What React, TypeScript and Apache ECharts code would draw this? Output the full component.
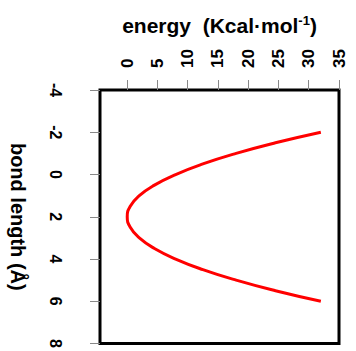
import React, { useEffect, useRef } from "react";
import * as echarts from "echarts";

const bondLength = [-2, -1.5, -1, -0.5, 0, 0.5, 1, 1.5, 2, 2.5, 3, 3.5, 4, 4.5, 5, 5.5, 6];
const energy = [32, 24.5, 18, 12.5, 8, 4.5, 2, 0.5, 0, 0.5, 2, 4.5, 8, 12.5, 18, 24.5, 32];
const energyTicks = [0, 5, 10, 15, 20, 25, 30, 35];

const FONT = "'Liberation Sans', Arial, sans-serif";

export default function App() {
  const ref = useRef<HTMLDivElement>(null);
  useEffect(() => {
    if (!ref.current) return;
    const chart = echarts.init(ref.current, null, { renderer: "svg" });
    const data = bondLength.map((b, i) => [energy[i], b]);
    chart.setOption({
      animation: false,
      backgroundColor: "#fff",
      grid: {
        left: 85,
        top: 90,
        width: 254,
        height: 254,
        show: true,
        borderColor: "#000",
        borderWidth: 3,
        containLabel: false,
      },
      xAxis: {
        type: "value",
        position: "top",
        min: -4.5,
        max: 35,
        name: "{a|energy  (Kcal·mol}{s|-1}{a|)}",
        nameLocation: "middle",
        nameGap: 53,
        nameTextStyle: {
          rich: {
            a: { fontFamily: FONT, fontWeight: "bold", fontSize: 21, color: "#000" },
            s: { fontFamily: FONT, fontWeight: "bold", fontSize: 13, color: "#000", padding: [0, 0, 10, 0] },
          },
        },
        axisLine: { show: false, onZero: false },
        splitLine: { show: false },
        axisTick: {
          show: true,
          inside: false,
          length: 10,
          customValues: energyTicks,
          lineStyle: { color: "#888", width: 1 },
        },
        axisLabel: {
          customValues: energyTicks,
          rotate: -90,
          margin: 22,
          fontFamily: FONT,
          fontWeight: "bold",
          fontSize: 17,
          color: "#000",
        },
      },
      yAxis: {
        type: "value",
        inverse: true,
        min: -4,
        max: 8,
        interval: 2,
        name: "bond length (Å)",
        nameLocation: "middle",
        nameGap: 72,
        nameRotate: -90,
        nameTextStyle: { fontFamily: FONT, fontWeight: "bold", fontSize: 20, color: "#000" },
        axisLine: { show: false, onZero: false },
        splitLine: { show: false },
        axisTick: { show: true, inside: false, length: 10, lineStyle: { color: "#888", width: 1 } },
        axisLabel: {
          rotate: -90,
          margin: 37,
          fontFamily: FONT,
          fontWeight: "bold",
          fontSize: 16,
          color: "#000",
        },
      },
      series: [
        {
          type: "line",
          data,
          smooth: true,
          showSymbol: false,
          symbol: "none",
          lineStyle: { color: "#ff0000", width: 3 },
        },
      ],
    });
    return () => chart.dispose();
  }, []);
  return (
    <div
      ref={ref}
      style={{ position: "absolute", left: 0, top: 0, width: 356, height: 351 }}
    />
  );
}
